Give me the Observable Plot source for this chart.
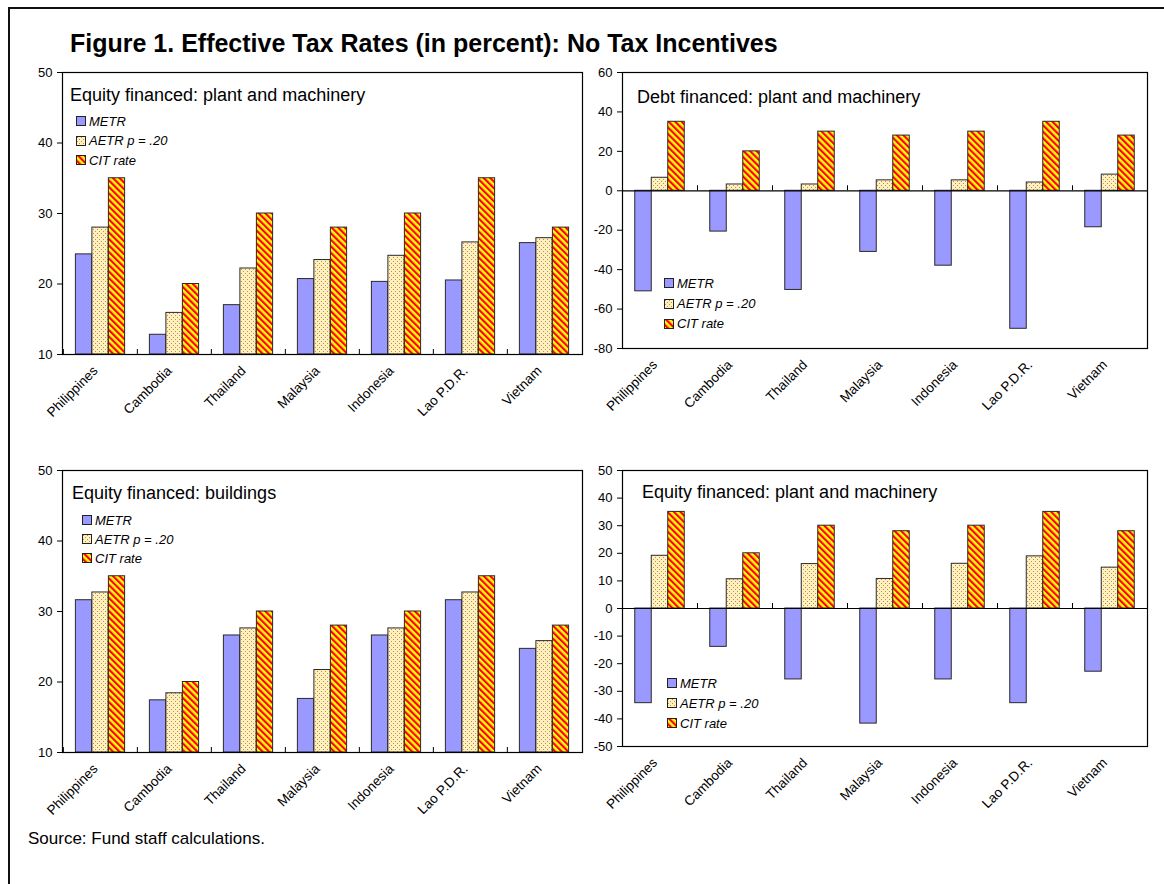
<!DOCTYPE html>
<html>
<head>
<meta charset="utf-8">
<script src="https://cdn.jsdelivr.net/npm/d3@7"></script>
<script src="https://cdn.jsdelivr.net/npm/@observablehq/plot@0.6"></script>
<style>
  html, body { margin: 0; padding: 0; background: #fff; }
  body { width: 1164px; height: 884px; overflow: hidden; position: relative;
         font-family: "Liberation Sans", Arial, Helvetica, sans-serif; color: #000; }
  .line { position: absolute; background: #111; z-index: 5; }
  .abs { position: absolute; white-space: nowrap; }
  .title { font-weight: bold; font-size: 25px; line-height: 25px; }
  .ptitle { font-size: 18px; line-height: 18px; }
  .source { font-size: 17px; line-height: 17px; }
  .leg { font-size: 13px; line-height: 13px; font-style: italic; }
  .sw { position: absolute; width: 10px; height: 10px; overflow: visible; }
  .plotbox { position: absolute; }
  .plotbox svg { overflow: visible; max-width: none; }
</style>
</head>
<body>
<svg width="0" height="0" style="position:absolute;left:0;top:0">
  <defs>
    <pattern id="aetrDots" width="4" height="4" patternUnits="userSpaceOnUse">
      <rect width="4" height="4" fill="#FFF3B2"></rect>
      <rect x="1" y="1" width="1" height="1" fill="#C07CA8"></rect>
      <rect x="3" y="3" width="1" height="1" fill="#C07CA8"></rect>
    </pattern>
    <pattern id="citStripes" width="4.6" height="4.6" patternUnits="userSpaceOnUse" patternTransform="rotate(-45)">
      <rect width="2.4" height="4.6" fill="#FF0000"></rect>
      <rect x="2.4" width="2.2" height="4.6" fill="#FFFF00"></rect>
    </pattern>
  </defs>
</svg>
<div class="line" style="left:8px;top:7px;width:1156px;height:2px"></div>
<div class="line" style="left:8px;top:7px;width:2px;height:877px"></div>
<div id="root"></div>
<script>
// ---------------- data ----------------
const countries = ["Philippines", "Cambodia", "Thailand", "Malaysia", "Indonesia", "Lao P.D.R.", "Vietnam"];
const seriesNames = ["METR", "AETR p = .20", "CIT rate"];

const citRate = [35, 20, 30, 28, 30, 35, 28];

// Panel 1: Equity financed: plant and machinery
const eqPlantMETR = [24.2, 12.8, 17.0, 20.7, 20.3, 20.5, 25.8];
const eqPlantAETR = [28.0, 15.9, 22.2, 23.4, 24.0, 25.9, 26.5];

// Panel 2: Debt financed: plant and machinery
const debtPlantMETR = [-51, -20.7, -50.3, -31, -38, -70, -18.5];
const debtPlantAETR = [6.6, 3.2, 3.2, 5.3, 5.3, 4.2, 8.2];

// Panel 3: Equity financed: buildings
const eqBuildMETR = [31.6, 17.4, 26.6, 17.6, 26.6, 31.6, 24.7];
const eqBuildAETR = [32.7, 18.4, 27.6, 21.7, 27.6, 32.7, 25.8];

// Panel 4: Equity financed: plant and machinery (second)
const eqPlant2METR = [-34.3, -13.9, -25.7, -41.7, -25.7, -34.3, -22.9];
const eqPlant2AETR = [19.1, 10.6, 16.1, 10.7, 16.2, 18.9, 14.8];

const ticks1 = [10, 20, 30, 40, 50];
const ticks2 = [-80, -60, -40, -20, 0, 20, 40, 60];
const ticks4 = [-50, -40, -30, -20, -10, 0, 10, 20, 30, 40, 50];

const mainTitle = "Figure 1. Effective Tax Rates (in percent): No Tax Incentives";
const sourceNote = "Source: Fund staff calculations.";
const panelTitles = ["Equity financed: plant and machinery", "Debt financed: plant and machinery",
                     "Equity financed: buildings", "Equity financed: plant and machinery"];

// ---------------- styles ----------------
const fills = {"METR": "#9999FF", "AETR p = .20": "url(#aetrDots)", "CIT rate": "url(#citStripes)"};

function makePanel(cfg) {
  const {metr, aetr, cit, yDomain, yTicks, base, width, height, margin} = cfg;
  const rows = countries.flatMap((c, i) => [
    {country: c, series: seriesNames[0], value: metr[i]},
    {country: c, series: seriesNames[1], value: aetr[i]},
    {country: c, series: seriesNames[2], value: cit[i]}
  ]);
  const plotW = width - margin.left - margin.right;
  const plotH = height - margin.top - margin.bottom;
  const bw = plotW / countries.length;
  const barW = 16.5;
  const off = (bw - 3 * barW) / 2;
  const tickUnits = 5 * (yDomain[1] - yDomain[0]) / plotH;
  const marks = [];
  seriesNames.forEach((s, k) => {
    marks.push(Plot.barY(rows.filter(d => d.series === s), {
      x: "country", y1: base, y2: "value", fill: fills[s],
      stroke: "#2a2a2a", strokeWidth: 1,
      insetLeft: off + k * barW, insetRight: bw - off - (k + 1) * barW
    }));
  });
  if (base === 0) marks.push(Plot.ruleY([0], {stroke: "#000", strokeWidth: 1.2}));
  marks.push(Plot.ruleX(countries, {x: d => d, y1: base, y2: base + tickUnits, dx: -bw / 2, stroke: "#000"}));
  marks.push(Plot.frame({stroke: "#000", strokeWidth: 1.2}));
  marks.push(Plot.axisY({ticks: yTicks, tickSize: 5, tickPadding: 5, tickFormat: d => String(d), fontSize: 13}));
  marks.push(Plot.axisX({tickSize: 0, tickRotate: -45, textAnchor: "end", tickPadding: 14, dx: -5, fontSize: 13.5}));
  return Plot.plot({
    width, height,
    marginLeft: margin.left, marginRight: margin.right, marginTop: margin.top, marginBottom: margin.bottom,
    x: {domain: countries, padding: 0, label: null},
    y: {domain: yDomain, label: null},
    style: {fontFamily: "Liberation Sans, Arial, sans-serif", fontSize: "13px", color: "#000", background: "transparent", overflow: "visible"},
    marks
  });
}

const root = document.getElementById("root");
function place(node, left, top) {
  const d = document.createElement("div");
  d.className = "plotbox";
  d.style.left = left + "px"; d.style.top = top + "px";
  d.appendChild(node);
  root.appendChild(d);
}
function text(cls, str, left, top) {
  const d = document.createElement("div");
  d.className = "abs " + cls;
  d.style.left = left + "px"; d.style.top = top + "px";
  d.textContent = str;
  root.appendChild(d);
}
function swatch(series, left, top) {
  const ns = "http://www.w3.org/2000/svg";
  const s = document.createElementNS(ns, "svg");
  s.setAttribute("class", "sw");
  s.setAttribute("width", 10); s.setAttribute("height", 10);
  s.style.left = left + "px"; s.style.top = top + "px";
  const r = document.createElementNS(ns, "rect");
  r.setAttribute("x", 0.5); r.setAttribute("y", 0.5);
  r.setAttribute("width", 9); r.setAttribute("height", 9);
  r.setAttribute("fill", fills[series]);
  r.setAttribute("stroke", "#222"); r.setAttribute("stroke-width", 1);
  s.appendChild(r);
  root.appendChild(s);
}
function legend(sqX, textX, rowsY) {
  seriesNames.forEach((s, i) => {
    swatch(s, sqX, rowsY[i] - 5);
    text("leg", s, textX, rowsY[i] - 6.5);
  });
}

// Top-left
place(makePanel({metr: eqPlantMETR, aetr: eqPlantAETR, cit: citRate, yDomain: [10, 50], yTicks: ticks1, base: 10,
  width: 600, height: 380, margin: {left: 62, right: 18, top: 12, bottom: 86}}), 0, 60);
// Top-right
place(makePanel({metr: debtPlantMETR, aetr: debtPlantAETR, cit: citRate, yDomain: [-80, 60], yTicks: ticks2, base: 0,
  width: 604, height: 380, margin: {left: 62, right: 17, top: 12, bottom: 92}}), 560, 60);
// Bottom-left
place(makePanel({metr: eqBuildMETR, aetr: eqBuildAETR, cit: citRate, yDomain: [10, 50], yTicks: ticks1, base: 10,
  width: 600, height: 400, margin: {left: 62, right: 18, top: 12, bottom: 106}}), 0, 458);
// Bottom-right
place(makePanel({metr: eqPlant2METR, aetr: eqPlant2AETR, cit: citRate, yDomain: [-50, 50], yTicks: ticks4, base: 0,
  width: 604, height: 400, margin: {left: 62, right: 17, top: 12, bottom: 112}}), 560, 458);

// Texts
text("title", mainTitle, 70, 31);
text("ptitle", panelTitles[0], 70, 86);
text("ptitle", panelTitles[1], 637, 88);
text("ptitle", panelTitles[2], 72, 484);
text("ptitle", panelTitles[3], 642, 483);
legend(76, 89, [121, 140.5, 160]);
legend(664, 677, [283, 303.5, 323.5]);
legend(82, 95, [520, 539, 558]);
legend(667, 680, [683, 703, 723]);
text("source", sourceNote, 28, 830);
</script>
</body>
</html>
